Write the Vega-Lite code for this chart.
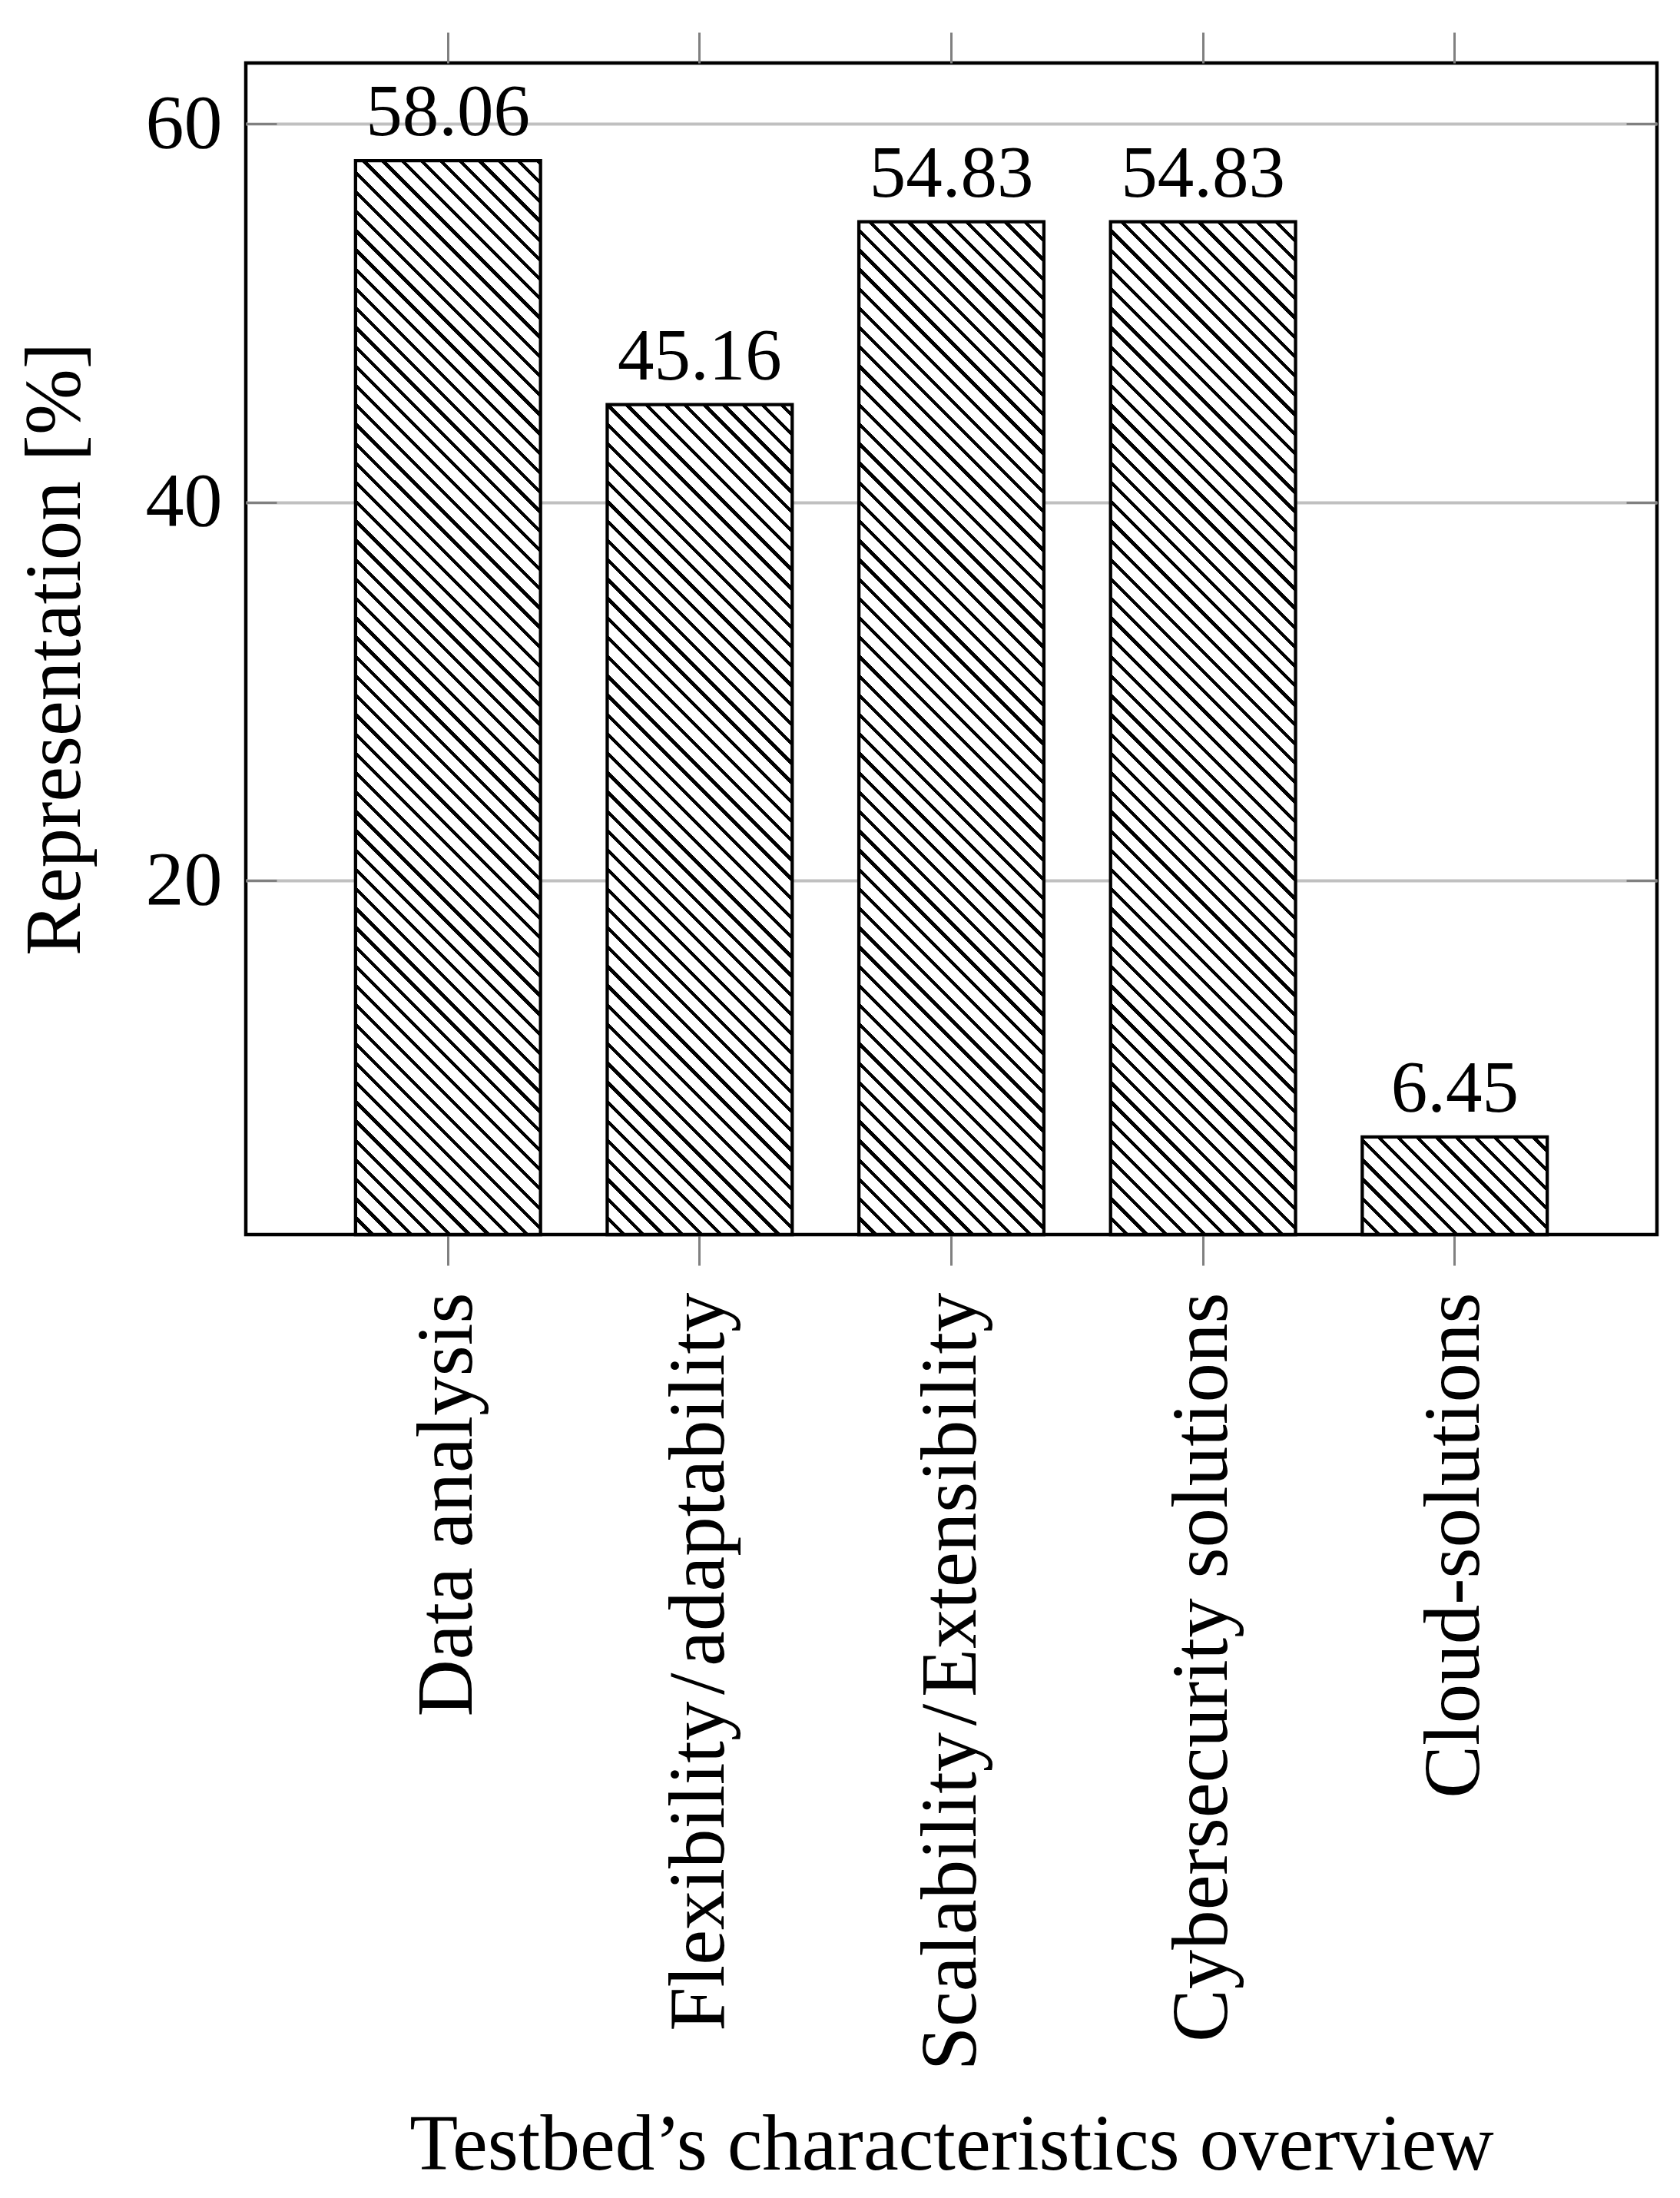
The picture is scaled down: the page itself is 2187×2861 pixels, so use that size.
{
"$schema": "https://vega.github.io/schema/vega-lite/v6.json",
"width": 1837,
"height": 1525,
"autosize": {"type": "none"},
"padding": {"left": 320, "top": 82, "right": 30, "bottom": 1254},
"background": "white",
"config": {
 "font": "Liberation Serif",
 "view": {"stroke": "black", "strokeWidth": 4.5},
 "axis": {"labelFont": "Liberation Serif", "labelFontSize": 100, "labelColor": "black", "titleFont": "Liberation Serif", "titleFontSize": 103, "titleFontWeight": "normal", "titleColor": "black", "tickColor": "#808080", "tickWidth": 3, "domain": false, "grid": false, "labelLimit": 3000, "gridColor": "#c0c0c0", "gridWidth": 4}
},
"params": [
 {"name": "hatch", "value": [
{"offset":0.0107,"color":"#fff"},{"offset":0.0107,"color":"#000"},{"offset":0.0143,"color":"#000"},{"offset":0.0143,"color":"#fff"},
{"offset":0.025,"color":"#fff"},{"offset":0.025,"color":"#000"},{"offset":0.0286,"color":"#000"},{"offset":0.0286,"color":"#fff"},
{"offset":0.0393,"color":"#fff"},{"offset":0.0393,"color":"#000"},{"offset":0.0429,"color":"#000"},{"offset":0.0429,"color":"#fff"},
{"offset":0.0536,"color":"#fff"},{"offset":0.0536,"color":"#000"},{"offset":0.0571,"color":"#000"},{"offset":0.0571,"color":"#fff"},
{"offset":0.0679,"color":"#fff"},{"offset":0.0679,"color":"#000"},{"offset":0.0714,"color":"#000"},{"offset":0.0714,"color":"#fff"},
{"offset":0.0821,"color":"#fff"},{"offset":0.0821,"color":"#000"},{"offset":0.0857,"color":"#000"},{"offset":0.0857,"color":"#fff"},
{"offset":0.0964,"color":"#fff"},{"offset":0.0964,"color":"#000"},{"offset":0.1,"color":"#000"},{"offset":0.1,"color":"#fff"},
{"offset":0.1107,"color":"#fff"},{"offset":0.1107,"color":"#000"},{"offset":0.1143,"color":"#000"},{"offset":0.1143,"color":"#fff"},
{"offset":0.125,"color":"#fff"},{"offset":0.125,"color":"#000"},{"offset":0.1286,"color":"#000"},{"offset":0.1286,"color":"#fff"},
{"offset":0.1393,"color":"#fff"},{"offset":0.1393,"color":"#000"},{"offset":0.1429,"color":"#000"},{"offset":0.1429,"color":"#fff"},
{"offset":0.1536,"color":"#fff"},{"offset":0.1536,"color":"#000"},{"offset":0.1571,"color":"#000"},{"offset":0.1571,"color":"#fff"},
{"offset":0.1679,"color":"#fff"},{"offset":0.1679,"color":"#000"},{"offset":0.1714,"color":"#000"},{"offset":0.1714,"color":"#fff"},
{"offset":0.1821,"color":"#fff"},{"offset":0.1821,"color":"#000"},{"offset":0.1857,"color":"#000"},{"offset":0.1857,"color":"#fff"},
{"offset":0.1964,"color":"#fff"},{"offset":0.1964,"color":"#000"},{"offset":0.2,"color":"#000"},{"offset":0.2,"color":"#fff"},
{"offset":0.2107,"color":"#fff"},{"offset":0.2107,"color":"#000"},{"offset":0.2143,"color":"#000"},{"offset":0.2143,"color":"#fff"},
{"offset":0.225,"color":"#fff"},{"offset":0.225,"color":"#000"},{"offset":0.2286,"color":"#000"},{"offset":0.2286,"color":"#fff"},
{"offset":0.2393,"color":"#fff"},{"offset":0.2393,"color":"#000"},{"offset":0.2429,"color":"#000"},{"offset":0.2429,"color":"#fff"},
{"offset":0.2536,"color":"#fff"},{"offset":0.2536,"color":"#000"},{"offset":0.2571,"color":"#000"},{"offset":0.2571,"color":"#fff"},
{"offset":0.2679,"color":"#fff"},{"offset":0.2679,"color":"#000"},{"offset":0.2714,"color":"#000"},{"offset":0.2714,"color":"#fff"},
{"offset":0.2821,"color":"#fff"},{"offset":0.2821,"color":"#000"},{"offset":0.2857,"color":"#000"},{"offset":0.2857,"color":"#fff"},
{"offset":0.2964,"color":"#fff"},{"offset":0.2964,"color":"#000"},{"offset":0.3,"color":"#000"},{"offset":0.3,"color":"#fff"},
{"offset":0.3107,"color":"#fff"},{"offset":0.3107,"color":"#000"},{"offset":0.3143,"color":"#000"},{"offset":0.3143,"color":"#fff"},
{"offset":0.325,"color":"#fff"},{"offset":0.325,"color":"#000"},{"offset":0.3286,"color":"#000"},{"offset":0.3286,"color":"#fff"},
{"offset":0.3393,"color":"#fff"},{"offset":0.3393,"color":"#000"},{"offset":0.3429,"color":"#000"},{"offset":0.3429,"color":"#fff"},
{"offset":0.3536,"color":"#fff"},{"offset":0.3536,"color":"#000"},{"offset":0.3571,"color":"#000"},{"offset":0.3571,"color":"#fff"},
{"offset":0.3679,"color":"#fff"},{"offset":0.3679,"color":"#000"},{"offset":0.3714,"color":"#000"},{"offset":0.3714,"color":"#fff"},
{"offset":0.3821,"color":"#fff"},{"offset":0.3821,"color":"#000"},{"offset":0.3857,"color":"#000"},{"offset":0.3857,"color":"#fff"},
{"offset":0.3964,"color":"#fff"},{"offset":0.3964,"color":"#000"},{"offset":0.4,"color":"#000"},{"offset":0.4,"color":"#fff"},
{"offset":0.4107,"color":"#fff"},{"offset":0.4107,"color":"#000"},{"offset":0.4143,"color":"#000"},{"offset":0.4143,"color":"#fff"},
{"offset":0.425,"color":"#fff"},{"offset":0.425,"color":"#000"},{"offset":0.4286,"color":"#000"},{"offset":0.4286,"color":"#fff"},
{"offset":0.4393,"color":"#fff"},{"offset":0.4393,"color":"#000"},{"offset":0.4429,"color":"#000"},{"offset":0.4429,"color":"#fff"},
{"offset":0.4536,"color":"#fff"},{"offset":0.4536,"color":"#000"},{"offset":0.4571,"color":"#000"},{"offset":0.4571,"color":"#fff"},
{"offset":0.4679,"color":"#fff"},{"offset":0.4679,"color":"#000"},{"offset":0.4714,"color":"#000"},{"offset":0.4714,"color":"#fff"},
{"offset":0.4821,"color":"#fff"},{"offset":0.4821,"color":"#000"},{"offset":0.4857,"color":"#000"},{"offset":0.4857,"color":"#fff"},
{"offset":0.4964,"color":"#fff"},{"offset":0.4964,"color":"#000"},{"offset":0.5,"color":"#000"},{"offset":0.5,"color":"#fff"},
{"offset":0.5107,"color":"#fff"},{"offset":0.5107,"color":"#000"},{"offset":0.5143,"color":"#000"},{"offset":0.5143,"color":"#fff"},
{"offset":0.525,"color":"#fff"},{"offset":0.525,"color":"#000"},{"offset":0.5286,"color":"#000"},{"offset":0.5286,"color":"#fff"},
{"offset":0.5393,"color":"#fff"},{"offset":0.5393,"color":"#000"},{"offset":0.5429,"color":"#000"},{"offset":0.5429,"color":"#fff"},
{"offset":0.5536,"color":"#fff"},{"offset":0.5536,"color":"#000"},{"offset":0.5571,"color":"#000"},{"offset":0.5571,"color":"#fff"},
{"offset":0.5679,"color":"#fff"},{"offset":0.5679,"color":"#000"},{"offset":0.5714,"color":"#000"},{"offset":0.5714,"color":"#fff"},
{"offset":0.5821,"color":"#fff"},{"offset":0.5821,"color":"#000"},{"offset":0.5857,"color":"#000"},{"offset":0.5857,"color":"#fff"},
{"offset":0.5964,"color":"#fff"},{"offset":0.5964,"color":"#000"},{"offset":0.6,"color":"#000"},{"offset":0.6,"color":"#fff"},
{"offset":0.6107,"color":"#fff"},{"offset":0.6107,"color":"#000"},{"offset":0.6143,"color":"#000"},{"offset":0.6143,"color":"#fff"},
{"offset":0.625,"color":"#fff"},{"offset":0.625,"color":"#000"},{"offset":0.6286,"color":"#000"},{"offset":0.6286,"color":"#fff"},
{"offset":0.6393,"color":"#fff"},{"offset":0.6393,"color":"#000"},{"offset":0.6429,"color":"#000"},{"offset":0.6429,"color":"#fff"},
{"offset":0.6536,"color":"#fff"},{"offset":0.6536,"color":"#000"},{"offset":0.6571,"color":"#000"},{"offset":0.6571,"color":"#fff"},
{"offset":0.6679,"color":"#fff"},{"offset":0.6679,"color":"#000"},{"offset":0.6714,"color":"#000"},{"offset":0.6714,"color":"#fff"},
{"offset":0.6821,"color":"#fff"},{"offset":0.6821,"color":"#000"},{"offset":0.6857,"color":"#000"},{"offset":0.6857,"color":"#fff"},
{"offset":0.6964,"color":"#fff"},{"offset":0.6964,"color":"#000"},{"offset":0.7,"color":"#000"},{"offset":0.7,"color":"#fff"},
{"offset":0.7107,"color":"#fff"},{"offset":0.7107,"color":"#000"},{"offset":0.7143,"color":"#000"},{"offset":0.7143,"color":"#fff"},
{"offset":0.725,"color":"#fff"},{"offset":0.725,"color":"#000"},{"offset":0.7286,"color":"#000"},{"offset":0.7286,"color":"#fff"},
{"offset":0.7393,"color":"#fff"},{"offset":0.7393,"color":"#000"},{"offset":0.7429,"color":"#000"},{"offset":0.7429,"color":"#fff"},
{"offset":0.7536,"color":"#fff"},{"offset":0.7536,"color":"#000"},{"offset":0.7571,"color":"#000"},{"offset":0.7571,"color":"#fff"},
{"offset":0.7679,"color":"#fff"},{"offset":0.7679,"color":"#000"},{"offset":0.7714,"color":"#000"},{"offset":0.7714,"color":"#fff"},
{"offset":0.7821,"color":"#fff"},{"offset":0.7821,"color":"#000"},{"offset":0.7857,"color":"#000"},{"offset":0.7857,"color":"#fff"},
{"offset":0.7964,"color":"#fff"},{"offset":0.7964,"color":"#000"},{"offset":0.8,"color":"#000"},{"offset":0.8,"color":"#fff"},
{"offset":0.8107,"color":"#fff"},{"offset":0.8107,"color":"#000"},{"offset":0.8143,"color":"#000"},{"offset":0.8143,"color":"#fff"},
{"offset":0.825,"color":"#fff"},{"offset":0.825,"color":"#000"},{"offset":0.8286,"color":"#000"},{"offset":0.8286,"color":"#fff"},
{"offset":0.8393,"color":"#fff"},{"offset":0.8393,"color":"#000"},{"offset":0.8429,"color":"#000"},{"offset":0.8429,"color":"#fff"},
{"offset":0.8536,"color":"#fff"},{"offset":0.8536,"color":"#000"},{"offset":0.8571,"color":"#000"},{"offset":0.8571,"color":"#fff"},
{"offset":0.8679,"color":"#fff"},{"offset":0.8679,"color":"#000"},{"offset":0.8714,"color":"#000"},{"offset":0.8714,"color":"#fff"},
{"offset":0.8821,"color":"#fff"},{"offset":0.8821,"color":"#000"},{"offset":0.8857,"color":"#000"},{"offset":0.8857,"color":"#fff"},
{"offset":0.8964,"color":"#fff"},{"offset":0.8964,"color":"#000"},{"offset":0.9,"color":"#000"},{"offset":0.9,"color":"#fff"},
{"offset":0.9107,"color":"#fff"},{"offset":0.9107,"color":"#000"},{"offset":0.9143,"color":"#000"},{"offset":0.9143,"color":"#fff"},
{"offset":0.925,"color":"#fff"},{"offset":0.925,"color":"#000"},{"offset":0.9286,"color":"#000"},{"offset":0.9286,"color":"#fff"},
{"offset":0.9393,"color":"#fff"},{"offset":0.9393,"color":"#000"},{"offset":0.9429,"color":"#000"},{"offset":0.9429,"color":"#fff"}
 ]}
],
"datasets": {
 "bars": [
  {"characteristic": "Data analysis", "value": 58.06},
  {"characteristic": "Flexibility\u200a/\u200aadaptability", "value": 45.16},
  {"characteristic": "Scalability\u200a/\u200aExtensibility", "value": 54.83},
  {"characteristic": "Cybersecurity solutions", "value": 54.83},
  {"characteristic": "Cloud-solutions", "value": 6.45}
 ]
},
"data": {"name": "bars"},
"resolve": {"axis": {"x": "independent", "y": "independent"}},
"layer": [
 {
  "transform": [{"filter": "datum.value == 58.06"}],
  "mark": {"type": "bar", "stroke": "black", "strokeWidth": 4.3, "fill": {"expr": "{gradient: 'linear', x1: 0, y1: 1, x2: 0.211096, y2: -0.225472, stops: hatch}"}},
  "encoding": {
   "x": {"field": "characteristic", "type": "nominal", "sort": null, "scale": {"domain": ["Data analysis", "Flexibility\u200a/\u200aadaptability", "Scalability\u200a/\u200aExtensibility", "Cybersecurity solutions", "Cloud-solutions"], "paddingInner": 0.265, "paddingOuter": 0.436},
     "axis": {"orient": "top", "labels": false, "tickSize": 40, "title": null}},
   "y": {"field": "value", "type": "quantitative", "scale": {"domain": [1.29, 63.22], "nice": false, "zero": false},
     "axis": {"orient": "right", "values": [20, 40, 60], "labels": false, "tickSize": -40, "title": null, "zindex": 1}},
   "y2": {"datum": 1.29}
  }
 },
 {
  "transform": [{"filter": "datum.value == 45.16"}],
  "mark": {"type": "bar", "stroke": "black", "strokeWidth": 4.3, "fill": {"expr": "{gradient: 'linear', x1: 0, y1: 1, x2: 0.346761, y2: -0.555613, stops: hatch}"}},
  "encoding": {
   "x": {"field": "characteristic", "type": "nominal", "sort": null, "axis": null},
   "y": {"field": "value", "type": "quantitative", "axis": null},
   "y2": {"datum": 1.29}
  }
 },
 {
  "transform": [{"filter": "datum.value == 54.83"}],
  "mark": {"type": "bar", "stroke": "black", "strokeWidth": 4.3, "fill": {"expr": "{gradient: 'linear', x1: 0, y1: 1, x2: 0.236493, y2: -0.29479, stops: hatch}"}},
  "encoding": {
   "x": {"field": "characteristic", "type": "nominal", "sort": null, "axis": null},
   "y": {"field": "value", "type": "quantitative", "axis": null},
   "y2": {"datum": 1.29}
  }
 },
 {
  "transform": [{"filter": "datum.value == 6.45"}],
  "mark": {"type": "bar", "stroke": "black", "strokeWidth": 4.3, "fill": {"expr": "{gradient: 'linear', x1: 0, y1: 1, x2: 5.73005, y2: -2.02352, stops: hatch}"}},
  "encoding": {
   "x": {"field": "characteristic", "type": "nominal", "sort": null, "axis": null},
   "y": {"field": "value", "type": "quantitative", "axis": null},
   "y2": {"datum": 1.29}
  }
 },
 {
  "mark": {"type": "text", "font": "Liberation Serif", "fontSize": 95, "baseline": "alphabetic", "align": "center", "dy": -33, "color": "black"},
  "encoding": {
   "x": {"field": "characteristic", "type": "nominal", "sort": null,
     "axis": {"orient": "bottom", "tickSize": 40, "labelAngle": 270, "labelAlign": "right", "labelBaseline": "middle", "labelPadding": 35, "labelFontSize": 103,
       "title": "Testbed’s characteristics overview", "titleX": 918.5, "titleY": 1216, "titleBaseline": "alphabetic", "titleAlign": "center", "titleAngle": 0}},
   "y": {"field": "value", "type": "quantitative",
     "axis": {"orient": "left", "values": [20, 40, 60], "grid": true, "tickSize": -40, "labelPadding": 71, "labelBaseline": "middle", "labelFontSize": 100,
       "title": "Representation [%]", "titleX": -217, "titleY": 762.5, "titleAngle": 270, "titleBaseline": "alphabetic", "titleAlign": "center", "zindex": 0}},
   "text": {"field": "value", "type": "quantitative", "format": ".2f"}
  }
 }
]
}
